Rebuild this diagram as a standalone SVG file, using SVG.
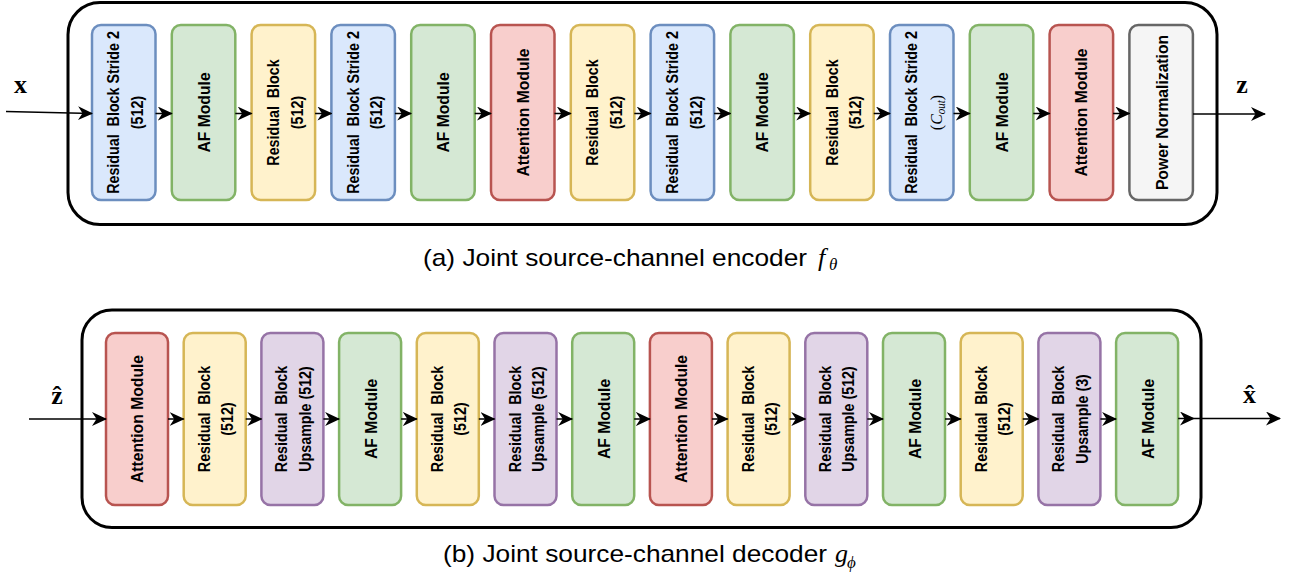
<svg xmlns="http://www.w3.org/2000/svg" width="1294" height="577" viewBox="0 0 1294 577">
  <defs>
    <style>
      .frame { fill: #ffffff; stroke: #000000; stroke-width: 3; }
      .blk { stroke-width: 2.5; }
      .blue { fill: #dae8fc; stroke: #6c8ebf; }
      .green { fill: #d5e8d4; stroke: #82b366; }
      .yellow { fill: #fff2cc; stroke: #d6b656; }
      .red { fill: #f8cecc; stroke: #b85450; }
      .gray { fill: #f5f5f5; stroke: #666666; }
      .purple { fill: #e1d5e7; stroke: #9673a6; }
      .t { font-family: "Liberation Sans", Arial, sans-serif; font-weight: bold; font-size: 14.3px; fill: #000; text-anchor: middle; }
      .t1 { font-family: "Liberation Sans", Arial, sans-serif; font-weight: bold; font-size: 15.7px; fill: #000; text-anchor: middle; }
      .m { font-family: "Liberation Serif", "Times New Roman", serif; font-weight: normal; font-size: 16px; }
      .vec { font-family: "Liberation Serif", "Times New Roman", serif; font-weight: bold; font-size: 26px; fill: #000; text-anchor: middle; }
      .cap { font-family: "Liberation Sans", Arial, sans-serif; font-size: 24px; fill: #000; }
      .mi { font-family: "Liberation Serif", "Times New Roman", serif; font-style: italic; fill: #000; }
      .conn path { fill: none; stroke: #000; stroke-width: 1.5; marker-end: url(#ah); }
    </style>
    <marker id="ah" viewBox="0 0 15 14" refX="14" refY="7" markerWidth="15" markerHeight="14" markerUnits="userSpaceOnUse" orient="auto">
      <path d="M0,0 L15,7 L0,14 L4.5,7 Z" fill="#000"/>
    </marker>
  </defs>

  <!-- ===== Encoder ===== -->
  <g id="encoder-frame"><rect class="frame" x="68" y="2.5" width="1149" height="222" rx="32"/></g>

  <g id="enc-1"><rect class="blk blue" x="92" y="25" width="63.5" height="175" rx="9"/>
    <text class="t" transform="translate(123.75,112.5) rotate(-90) scale(1,1.1)"><tspan x="0" y="-4">Residual&#160; Block Stride 2</tspan><tspan x="0" y="17.5">(512)</tspan></text></g>
  <g id="enc-2"><rect class="blk green" x="171.8" y="25" width="63.5" height="175" rx="9"/>
    <text class="t1" transform="translate(203.55,112.5) rotate(-90) scale(1,1.1)" x="0" y="5.5">AF Module</text></g>
  <g id="enc-3"><rect class="blk yellow" x="251.6" y="25" width="63.5" height="175" rx="9"/>
    <text class="t" transform="translate(283.35,112.5) rotate(-90) scale(1,1.1)"><tspan x="0" y="-4">Residual&#160; Block</tspan><tspan x="0" y="17.5">(512)</tspan></text></g>
  <g id="enc-4"><rect class="blk blue" x="331.4" y="25" width="63.5" height="175" rx="9"/>
    <text class="t" transform="translate(363.15,112.5) rotate(-90) scale(1,1.1)"><tspan x="0" y="-4">Residual&#160; Block Stride 2</tspan><tspan x="0" y="17.5">(512)</tspan></text></g>
  <g id="enc-5"><rect class="blk green" x="411.2" y="25" width="63.5" height="175" rx="9"/>
    <text class="t1" transform="translate(442.95,112.5) rotate(-90) scale(1,1.1)" x="0" y="5.5">AF Module</text></g>
  <g id="enc-6"><rect class="blk red" x="491" y="25" width="63.5" height="175" rx="9"/>
    <text class="t1" transform="translate(522.75,112.5) rotate(-90) scale(1,1.1)" x="0" y="5.5">Attention Module</text></g>
  <g id="enc-7"><rect class="blk yellow" x="570.8" y="25" width="63.5" height="175" rx="9"/>
    <text class="t" transform="translate(602.55,112.5) rotate(-90) scale(1,1.1)"><tspan x="0" y="-4">Residual&#160; Block</tspan><tspan x="0" y="17.5">(512)</tspan></text></g>
  <g id="enc-8"><rect class="blk blue" x="650.6" y="25" width="63.5" height="175" rx="9"/>
    <text class="t" transform="translate(682.35,112.5) rotate(-90) scale(1,1.1)"><tspan x="0" y="-4">Residual&#160; Block Stride 2</tspan><tspan x="0" y="17.5">(512)</tspan></text></g>
  <g id="enc-9"><rect class="blk green" x="730.4" y="25" width="63.5" height="175" rx="9"/>
    <text class="t1" transform="translate(762.15,112.5) rotate(-90) scale(1,1.1)" x="0" y="5.5">AF Module</text></g>
  <g id="enc-10"><rect class="blk yellow" x="810.2" y="25" width="63.5" height="175" rx="9"/>
    <text class="t" transform="translate(841.95,112.5) rotate(-90) scale(1,1.1)"><tspan x="0" y="-4">Residual&#160; Block</tspan><tspan x="0" y="17.5">(512)</tspan></text></g>
  <g id="enc-11"><rect class="blk blue" x="890" y="25" width="63.5" height="175" rx="9"/>
    <text class="t" transform="translate(921.75,112.5) rotate(-90) scale(1,1.1)"><tspan x="0" y="-4">Residual&#160; Block Stride 2</tspan><tspan class="m" x="0" y="18.5">(<tspan font-style="italic">C</tspan><tspan font-style="italic" font-size="11" dy="3">out</tspan><tspan dy="-3">)</tspan></tspan></text></g>
  <g id="enc-12"><rect class="blk green" x="969.8" y="25" width="63.5" height="175" rx="9"/>
    <text class="t1" transform="translate(1001.55,112.5) rotate(-90) scale(1,1.1)" x="0" y="5.5">AF Module</text></g>
  <g id="enc-13"><rect class="blk red" x="1049.6" y="25" width="63.5" height="175" rx="9"/>
    <text class="t1" transform="translate(1081.35,112.5) rotate(-90) scale(1,1.1)" x="0" y="5.5">Attention Module</text></g>
  <g id="enc-14"><rect class="blk gray" x="1129.4" y="25" width="63.5" height="175" rx="9"/>
    <text class="t1" transform="translate(1161.15,112.5) rotate(-90) scale(1,1.1)" x="0" y="6.5">Power Normalization</text></g>

  <g id="enc-in"><text class="vec" x="20.5" y="93">x</text></g>
  <g id="enc-out"><text class="vec" x="1242" y="93">z</text></g>

  <g id="enc-connectors" class="conn">
    <path d="M6,111.5 L92,113.5"/>
    <path d="M155.5,113.5 L171.8,113.5"/>
    <path d="M235.3,113.5 L251.6,113.5"/>
    <path d="M315.1,113.5 L331.4,113.5"/>
    <path d="M394.9,113.5 L411.2,113.5"/>
    <path d="M474.7,113.5 L491,113.5"/>
    <path d="M554.5,113.5 L570.8,113.5"/>
    <path d="M634.3,113.5 L650.6,113.5"/>
    <path d="M714.1,113.5 L730.4,113.5"/>
    <path d="M793.9,113.5 L810.2,113.5"/>
    <path d="M873.7,113.5 L890,113.5"/>
    <path d="M953.5,113.5 L969.8,113.5"/>
    <path d="M1033.3,113.5 L1049.6,113.5"/>
    <path d="M1113.1,113.5 L1129.4,113.5"/>
    <path d="M1193,114 L1265,114"/>
  </g>

  <g id="enc-caption">
    <text class="cap" x="423" y="266" textLength="384" lengthAdjust="spacingAndGlyphs">(a) Joint source-channel encoder</text>
    <text class="mi" x="818" y="266" font-size="26">f</text>
    <text class="mi" x="829" y="269.5" font-size="17">θ</text>
  </g>

  <!-- ===== Decoder ===== -->
  <g id="decoder-frame"><rect class="frame" x="82" y="310" width="1119" height="217.5" rx="30"/></g>

  <g id="dec-1"><rect class="blk red" x="106" y="333" width="62" height="172" rx="9"/>
    <text class="t1" transform="translate(137,419) rotate(-90) scale(1,1.1)" x="0" y="5.5">Attention Module</text></g>
  <g id="dec-2"><rect class="blk yellow" x="183.7" y="333" width="62" height="172" rx="9"/>
    <text class="t" transform="translate(214.7,419) rotate(-90) scale(1,1.1)"><tspan x="0" y="-4.5">Residual&#160; Block</tspan><tspan x="0" y="16.5">(512)</tspan></text></g>
  <g id="dec-3"><rect class="blk purple" x="261.4" y="333" width="62" height="172" rx="9"/>
    <text class="t" transform="translate(292.4,419) rotate(-90) scale(1,1.1)"><tspan x="0" y="-4.5">Residual&#160; Block</tspan><tspan x="0" y="16.5">Upsample (512)</tspan></text></g>
  <g id="dec-4"><rect class="blk green" x="339.1" y="333" width="62" height="172" rx="9"/>
    <text class="t1" transform="translate(370.1,419) rotate(-90) scale(1,1.1)" x="0" y="6">AF Module</text></g>
  <g id="dec-5"><rect class="blk yellow" x="416.8" y="333" width="62" height="172" rx="9"/>
    <text class="t" transform="translate(447.8,419) rotate(-90) scale(1,1.1)"><tspan x="0" y="-4.5">Residual&#160; Block</tspan><tspan x="0" y="16.5">(512)</tspan></text></g>
  <g id="dec-6"><rect class="blk purple" x="494.5" y="333" width="62" height="172" rx="9"/>
    <text class="t" transform="translate(525.5,419) rotate(-90) scale(1,1.1)"><tspan x="0" y="-4.5">Residual&#160; Block</tspan><tspan x="0" y="16.5">Upsample (512)</tspan></text></g>
  <g id="dec-7"><rect class="blk green" x="572.2" y="333" width="62" height="172" rx="9"/>
    <text class="t1" transform="translate(603.2,419) rotate(-90) scale(1,1.1)" x="0" y="6">AF Module</text></g>
  <g id="dec-8"><rect class="blk red" x="649.9" y="333" width="62" height="172" rx="9"/>
    <text class="t1" transform="translate(680.9,419) rotate(-90) scale(1,1.1)" x="0" y="5.5">Attention Module</text></g>
  <g id="dec-9"><rect class="blk yellow" x="727.6" y="333" width="62" height="172" rx="9"/>
    <text class="t" transform="translate(758.6,419) rotate(-90) scale(1,1.1)"><tspan x="0" y="-4.5">Residual&#160; Block</tspan><tspan x="0" y="16.5">(512)</tspan></text></g>
  <g id="dec-10"><rect class="blk purple" x="805.3" y="333" width="62" height="172" rx="9"/>
    <text class="t" transform="translate(836.3,419) rotate(-90) scale(1,1.1)"><tspan x="0" y="-4.5">Residual&#160; Block</tspan><tspan x="0" y="16.5">Upsample (512)</tspan></text></g>
  <g id="dec-11"><rect class="blk green" x="883" y="333" width="62" height="172" rx="9"/>
    <text class="t1" transform="translate(914,419) rotate(-90) scale(1,1.1)" x="0" y="6">AF Module</text></g>
  <g id="dec-12"><rect class="blk yellow" x="960.7" y="333" width="62" height="172" rx="9"/>
    <text class="t" transform="translate(991.7,419) rotate(-90) scale(1,1.1)"><tspan x="0" y="-4.5">Residual&#160; Block</tspan><tspan x="0" y="16.5">(512)</tspan></text></g>
  <g id="dec-13"><rect class="blk purple" x="1038.4" y="333" width="62" height="172" rx="9"/>
    <text class="t" transform="translate(1069.4,419) rotate(-90) scale(1,1.1)"><tspan x="0" y="-4.5">Residual&#160; Block</tspan><tspan x="0" y="16.5">Upsample (3)</tspan></text></g>
  <g id="dec-14"><rect class="blk green" x="1116.1" y="333" width="62" height="172" rx="9"/>
    <text class="t1" transform="translate(1147.1,419) rotate(-90) scale(1,1.1)" x="0" y="6">AF Module</text></g>

  <g id="dec-in"><text class="vec" x="57" y="404">z</text><text class="vec" x="57" y="404" font-size="22">ˆ</text></g>
  <g id="dec-out"><text class="vec" x="1249.5" y="403">x</text><text class="vec" x="1249.5" y="403" font-size="22">ˆ</text></g>

  <g id="dec-connectors" class="conn">
    <path d="M29,419 L106,419"/>
    <path d="M168,419 L183.7,419"/>
    <path d="M245.7,419 L261.4,419"/>
    <path d="M323.4,419 L339.1,419"/>
    <path d="M401.1,419 L416.8,419"/>
    <path d="M478.8,419 L494.5,419"/>
    <path d="M556.5,419 L572.2,419"/>
    <path d="M634.2,419 L649.9,419"/>
    <path d="M711.9,419 L727.6,419"/>
    <path d="M789.6,419 L805.3,419"/>
    <path d="M867.3,419 L883,419"/>
    <path d="M945,419 L960.7,419"/>
    <path d="M1022.7,419 L1038.4,419"/>
    <path d="M1100.4,419 L1116.1,419"/>
    <path d="M1178.1,418.5 L1194,418.5"/>
    <path d="M1194,418.5 L1280,418.5"/>
  </g>

  <g id="dec-caption">
    <text class="cap" x="443" y="562" textLength="384" lengthAdjust="spacingAndGlyphs">(b) Joint source-channel decoder</text>
    <text class="mi" x="835" y="562" font-size="26">g</text>
    <text class="mi" x="847" y="567.5" font-size="17">ϕ</text>
  </g>
</svg>
